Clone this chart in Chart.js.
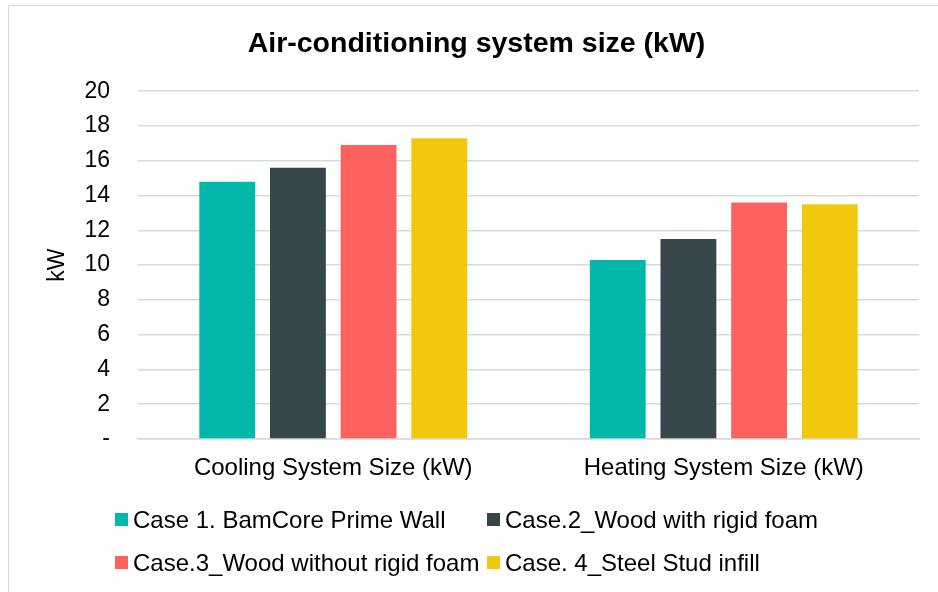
<!DOCTYPE html>
<html>
<head>
<meta charset="utf-8">
<script src="https://cdn.jsdelivr.net/npm/chart.js@4"></script>
<style>
  html, body { margin: 0; padding: 0; background: #fff; }
  #wrap { position: relative; width: 938px; height: 592px; overflow: hidden; }
  #frame { position: absolute; left: 8px; top: 5px; width: 940px; height: 600px;
           border: 1.5px solid #d9d9d9; box-sizing: border-box; pointer-events: none; }
  #legend { position: absolute; left: 115px; top: 498px; display: grid;
            grid-template-columns: 372px auto; grid-auto-rows: 43px;
            font-family: "Liberation Sans", Arial, sans-serif; font-size: 24px; color: #000; }
  .item { display: flex; align-items: center; white-space: nowrap; }
  .box { width: 13px; height: 13px; margin-right: 5px; flex: none; }
</style>
</head>
<body>
<div id="wrap">
  <canvas id="chart" width="938" height="592"></canvas>
  <div id="frame"></div>
  <div id="legend"></div>
</div>
<script>
  const categories = ['Cooling System Size (kW)', 'Heating System Size (kW)'];

  const seriesNames = [
    'Case 1. BamCore Prime Wall',
    'Case.2_Wood with rigid foam',
    'Case.3_Wood without rigid foam',
    'Case. 4_Steel Stud infill'
  ];

  const case1 = [14.8, 10.3];
  const case2 = [15.6, 11.5];
  const case3 = [16.9, 13.6];
  const case4 = [17.3, 13.5];

  const yTicks = [0, 2, 4, 6, 8, 10, 12, 14, 16, 18, 20];

  const colors = ['#01B8AA', '#374649', '#FD625E', '#F2C80F'];
  const font = "'Liberation Sans', Arial, sans-serif";

  const data = {
    labels: categories,
    datasets: [case1, case2, case3, case4].map((vals, i) => ({
      label: seriesNames[i],
      data: vals,
      backgroundColor: colors[i],
      borderWidth: 0,
      barPercentage: 0.79,
      categoryPercentage: 0.724
    }))
  };

  // legend is html so the two columns line up like the original
  const htmlLegend = {
    id: 'htmlLegend',
    afterUpdate(chart) {
      const box = document.getElementById('legend');
      box.innerHTML = '';
      chart.data.datasets.forEach(ds => {
        const item = document.createElement('div');
        item.className = 'item';
        const sw = document.createElement('span');
        sw.className = 'box';
        sw.style.background = ds.backgroundColor;
        const txt = document.createElement('span');
        txt.textContent = ds.label;
        item.appendChild(sw);
        item.appendChild(txt);
        box.appendChild(item);
      });
    }
  };

  const config = {
    type: 'bar',
    data: data,
    plugins: [htmlLegend],
    options: {
      responsive: false,
      animation: false,
      layout: {
        padding: { left: 34, right: 19, top: 0, bottom: 100 }
      },
      plugins: {
        legend: { display: false },
        tooltip: { enabled: false },
        title: {
          display: true,
          text: 'Air-conditioning system size (kW)',
          color: '#000',
          font: { family: font, size: 28.5, weight: 'bold' },
          padding: { top: 27, bottom: 30 }
        }
      },
      scales: {
        x: {
          grid: { display: false, drawTicks: false },
          border: { display: true, color: '#d9d9d9', width: 1.5 },
          ticks: { color: '#000', font: { family: font, size: 24 }, padding: 15, maxRotation: 0 },
          afterFit(scale) { scale.height = 53; }
        },
        y: {
          min: 0,
          max: 20,
          grid: { color: '#d9d9d9', lineWidth: 1.5, drawTicks: false },
          border: { display: false },
          afterBuildTicks(scale) { scale.ticks = yTicks.map(v => ({ value: v })); },
          ticks: {
            color: '#000',
            font: { family: font, size: 23 },
            padding: 28,
            callback: v => (v === 0 ? '-' : v)
          },
          title: {
            display: true,
            text: 'kW',
            color: '#000',
            font: { family: font, size: 23 },
            padding: { top: 10, bottom: 0 }
          },
          afterFit(scale) { scale.width = 104; }
        }
      }
    }
  };

  const myChart = new Chart(document.getElementById('chart'), config);
</script>
</body>
</html>
